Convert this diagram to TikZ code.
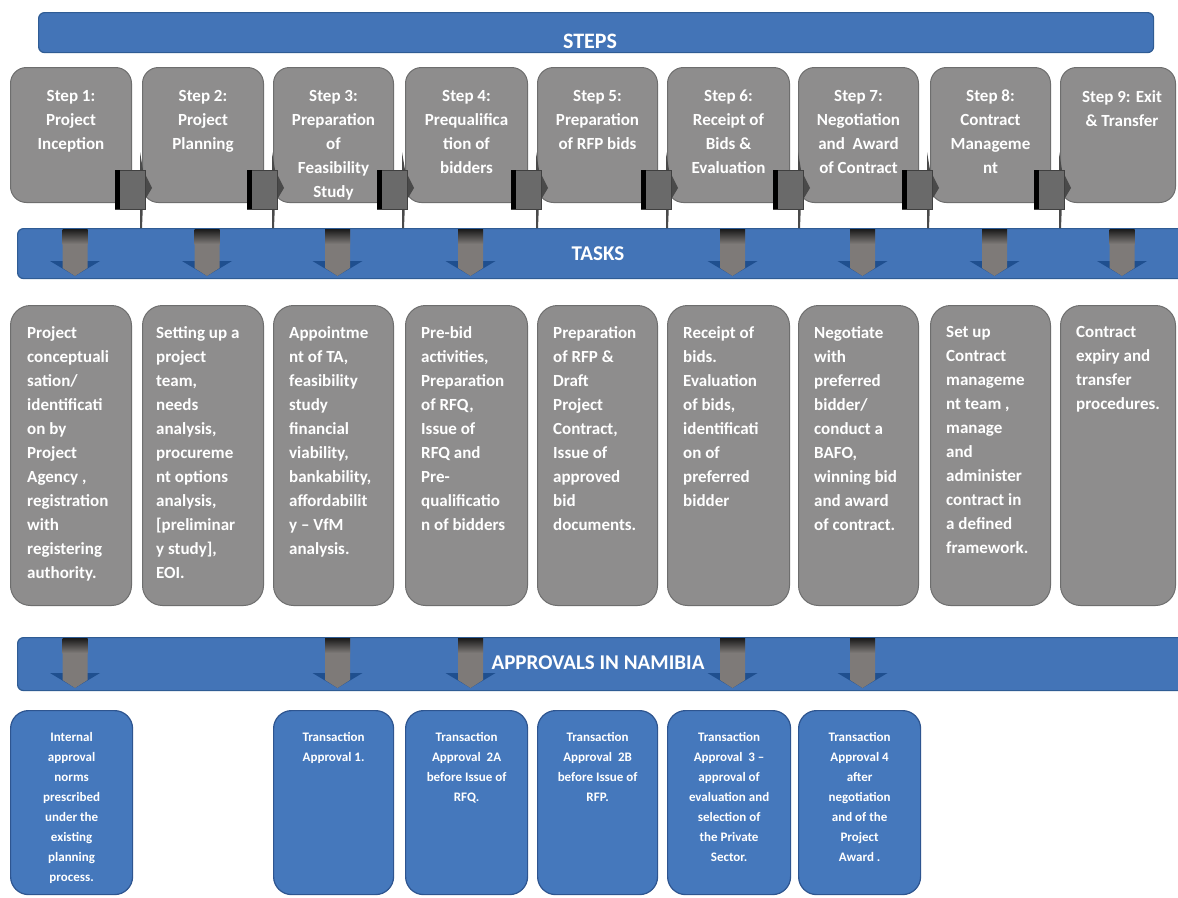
\documentclass[tikz,border=0pt]{standalone}
\usepackage{fontspec}
\setmainfont{Carlito}
\definecolor{barblue}{HTML}{4374B7}
\definecolor{barline}{HTML}{2F5C94}
\definecolor{boxgray}{HTML}{8E8D8D}
\definecolor{boxline}{HTML}{6E6E6E}
\definecolor{apblue}{HTML}{4578BC}
\definecolor{apline}{HTML}{2E5590}
\definecolor{headblue}{HTML}{1F4F8F}
\definecolor{shaftgray}{HTML}{7E7A78}
\definecolor{connfill}{HTML}{6A6A6A}
\definecolor{conndark}{HTML}{4A4A4A}
\begin{document}
\begin{tikzpicture}[x=1pt,y=-1pt,
  bar/.style={fill=barblue, draw=barline, line width=1.2pt, rounded corners=6pt, inner sep=0pt, anchor=north west},
  stepbox/.style={fill=boxgray, draw=boxline, line width=1pt, rounded corners=16pt, inner sep=0pt, anchor=north west, minimum height=135},
  taskbox/.style={fill=boxgray, draw=boxline, line width=1pt, rounded corners=20pt, inner sep=0pt, anchor=north west, minimum height=300},
  apbox/.style={fill=apblue, draw=apline, line width=1.2pt, rounded corners=18pt, inner sep=0pt, anchor=north west, minimum height=184},
  connsq/.style={fill=connfill, draw=black!75, line width=0.6pt, inner sep=0pt, anchor=north west, minimum width=30, minimum height=39},
  bartext/.style={text=white, font=\bfseries\fontsize{21}{24}\selectfont, inner sep=0pt},
  steptext/.style={text=white, font=\bfseries\fontsize{17}{24}\selectfont, align=center, anchor=north, inner sep=0pt},
  tasktext/.style={text=white, font=\bfseries\fontsize{17}{24}\selectfont, align=left, anchor=north west, inner sep=0pt},
  aptext/.style={text=white, font=\bfseries\fontsize{13}{20}\selectfont, align=center, anchor=north, inner sep=0pt},
  tarr/.pic={
    \fill[headblue] (-21,33) -- (29,33) -- (4,48) -- cycle;
    \fill[shaftgray] (-8.5,1) -- (16.5,1) -- (16.5,40) -- (4,48) -- (-8.5,40) -- cycle;
    \shade[top color=black!90, bottom color=shaftgray] (-8.5,1) rectangle (16.5,16);
  },
  aarr/.pic={
    \fill[headblue] (-21,36) -- (29,36) -- (4,51) -- cycle;
    \fill[shaftgray] (-8.5,1) -- (16.5,1) -- (16.5,43) -- (4,51) -- (-8.5,43) -- cycle;
    \shade[top color=black!90, bottom color=shaftgray] (-8.5,1) rectangle (16.5,16);
  },
]
\clip (0,0) rectangle (1178,897);
\fill[white] (0,0) rectangle (1178,897);

% bars
\node[bar, minimum width=1115, minimum height=40] (stepsbar) at (38,12) {};
\node[bartext, font=\bfseries\fontsize{22}{24}\selectfont] (stepslbl) at (590,41) {STEPS};
\node[bar, minimum width=1180, minimum height=50] (tasksbar) at (17,228) {};
\node[bar, minimum width=1180, minimum height=53] (apbar) at (17,637) {};

% step boxes and task boxes
\foreach \i/\x/\w in {1/10/121, 2/142/121, 3/273/120, 4/405/122, 5/537/120, 6/667/122, 7/798/120, 8/930/120, 9/1060/115} {
  \node[stepbox, minimum width=\w] (s\i) at (\x,67) {};
  \node[taskbox, minimum width=\w] (t\i) at (\x,305) {};
}

% connectors between steps
\foreach \i/\r in {1/131, 2/263, 3/393, 4/527, 5/657, 6/789, 7/918, 8/1050} {
  \fill[conndark] (\r+9,152) -- (\r+12,170) -- (\r+21,188) -- (\r+12,203) -- (\r+11,228) -- (\r+9,228) -- cycle;
  \node[connsq] (c\i) at (\r-16,170) {};
  \fill[black] (c\i.north west) rectangle ++(5,39);
}

% step texts
\node[steptext] (s1l) at ([yshift=-23pt]s1.north) {Step 1:\\Project\\Inception};
\node[steptext] (s2l) at ([yshift=-23pt]s2.north) {Step 2:\\Project\\Planning};
\node[steptext] (s3l) at ([yshift=-23pt]s3.north) {Step 3:\\Preparation\\of\\Feasibility\\Study};
\node[steptext] (s4l) at ([yshift=-23pt]s4.north) {Step 4:\\Prequalifica\\tion of\\bidders};
\node[steptext] (s5l) at ([yshift=-23pt]s5.north) {Step 5:\\Preparation\\of RFP bids};
\node[steptext] (s6l) at ([yshift=-23pt]s6.north) {Step 6:\\Receipt of\\Bids \&\\Evaluation};
\node[steptext] (s7l) at ([yshift=-23pt]s7.north) {Step 7:\\Negotiation\\and\ \ Award\\of Contract};
\node[steptext] (s8l) at ([yshift=-23pt]s8.north) {Step 8:\\Contract\\Manageme\\nt};
\node[steptext] (s9l) at ([xshift=4pt,yshift=-23pt]s9.north) {Step 9: Exit\\\& Transfer};

% task arrows
\foreach \i in {1,2,3,4,6,7,8,9} {
  \pic at (s\i.center |- tasksbar.north) {tarr};
}
\node[bartext] (taskslbl) at (598,254) {TASKS};

% task texts
\node[tasktext] (t1l) at ([xshift=17pt,yshift=-21pt]t1.north west) {Project\\conceptuali\\sation/\\identificati\\on by\\Project\\Agency ,\\registration\\with\\registering\\authority.};
\node[tasktext] (t2l) at ([xshift=14pt,yshift=-21pt]t2.north west) {Setting up a\\project\\team,\\needs\\analysis,\\procureme\\nt options\\analysis,\\{[}preliminar\\y study{]},\\EOI.};
\node[tasktext] (t3l) at ([xshift=16pt,yshift=-21pt]t3.north west) {Appointme\\nt of TA,\\feasibility\\study\\financial\\viability,\\bankability,\\affordabilit\\y -- VfM\\analysis.};
\node[tasktext] (t4l) at ([xshift=16pt,yshift=-21pt]t4.north west) {Pre-bid\\activities,\\Preparation\\of RFQ,\\Issue of\\RFQ and\\Pre-\\qualificatio\\n of bidders};
\node[tasktext] (t5l) at ([xshift=16pt,yshift=-21pt]t5.north west) {Preparation\\of RFP \&\\Draft\\Project\\Contract,\\Issue of\\approved\\bid\\documents.};
\node[tasktext] (t6l) at ([xshift=16pt,yshift=-21pt]t6.north west) {Receipt of\\bids.\\Evaluation\\of bids,\\identificati\\on of\\preferred\\bidder};
\node[tasktext] (t7l) at ([xshift=16pt,yshift=-21pt]t7.north west) {Negotiate\\with\\preferred\\bidder/\\conduct a\\BAFO,\\winning bid\\and award\\of contract.};
\node[tasktext] (t8l) at ([xshift=16pt,yshift=-21pt]t8.north west) {Set up\\Contract\\manageme\\nt team ,\\manage\\and\\administer\\contract in\\a defined\\framework.};
\node[tasktext] (t9l) at ([xshift=16pt,yshift=-21pt]t9.north west) {Contract\\expiry and\\transfer\\procedures.};

% approval arrows
\foreach \i in {1,3,4,6,7} {
  \pic at (s\i.center |- apbar.north) {aarr};
}
\node[bartext] (aplbl) at (598,663) {APPROVALS IN NAMIBIA};

% approval boxes
\foreach \i/\x/\w in {1/10/122, 3/273/120, 4/405/122, 5/537/120, 6/667/123, 7/798/122} {
  \node[apbox, minimum width=\w] (a\i) at (\x,710) {};
}
\node[aptext] (a1l) at ([yshift=-22pt]a1.north) {Internal\\approval\\norms\\prescribed\\under the\\existing\\planning\\process.};
\node[aptext] (a3l) at ([yshift=-22pt]a3.north) {Transaction\\Approval 1.};
\node[aptext] (a4l) at ([yshift=-22pt]a4.north) {Transaction\\Approval\ \ 2A\\before Issue of\\RFQ.};
\node[aptext] (a5l) at ([yshift=-22pt]a5.north) {Transaction\\Approval\ \ 2B\\before Issue of\\RFP.};
\node[aptext] (a6l) at ([yshift=-22pt]a6.north) {Transaction\\Approval\ \ 3 --\\approval of\\evaluation and\\selection of\\the Private\\Sector.};
\node[aptext] (a7l) at ([yshift=-22pt]a7.north) {Transaction\\Approval 4\\after\\negotiation\\and of the\\Project\\Award .};
\end{tikzpicture}
\end{document}
